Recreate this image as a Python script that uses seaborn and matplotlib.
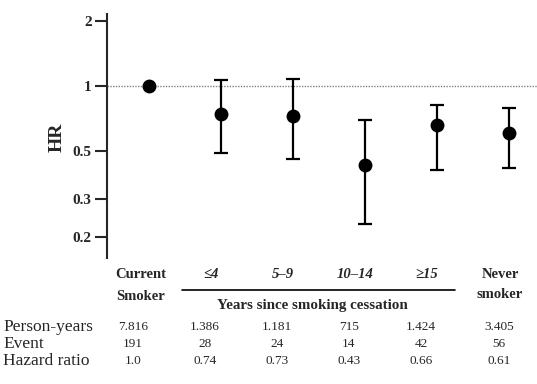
import numpy as np
import pandas as pd
import seaborn as sns
import matplotlib.pyplot as plt
from matplotlib.lines import Line2D

sns.set_style("ticks")
plt.rcParams['font.family'] = ['Liberation Serif', 'DejaVu Serif']

# Groups and estimates
groups = ["Current Smoker", "≤4", "5–9", "10–14", "≥15", "Never smoker"]
hazard_ratio = [1.0, 0.74, 0.73, 0.43, 0.66, 0.61]
ci_low = [1.0, 0.49, 0.46, 0.23, 0.41, 0.42]
ci_high = [1.0, 1.07, 1.08, 0.70, 0.82, 0.79]
has_ci = [False, True, True, True, True, True]

# Table below the plot
person_years = ["7.816", "1.386", "1.181", "715", "1.424", "3.405"]
events = ["191", "28", "24", "14", "42", "56"]
hr_text = ["1.0", "0.74", "0.73", "0.43", "0.66", "0.61"]

y_ticks = [0.2, 0.3, 0.5, 1, 2]
y_tick_labels = ["0.2", "0.3", "0.5", "1", "2"]

W, H = 537, 384
fig = plt.figure(figsize=(W / 100, H / 100), dpi=100)
ax = fig.add_axes([107 / W, 1 - 258 / H, 430 / W, (258 - 14) / H])

df = pd.DataFrame({"group": groups, "hr": hazard_ratio,
                   "lo": ci_low, "hi": ci_high, "ci": has_ci})
df["pos"] = np.arange(len(df))

# Confidence intervals
sub = df[df["ci"]]
ax.errorbar(sub["pos"], sub["hr"],
            yerr=[sub["hr"] - sub["lo"], sub["hi"] - sub["hr"]],
            fmt="none", ecolor="black", elinewidth=1.6, capsize=5,
            capthick=1.6, zorder=2)

# Point estimates
sns.scatterplot(data=df, x="pos", y="hr", ax=ax, color="black", s=100,
                edgecolor="black", linewidth=0, zorder=3, legend=False)

ax.axhline(1, color="0.5", ls=(0, (1, 1)), lw=1.0, zorder=1)

ax.set_yscale("log")
ax.set_ylim(0.16, 2.16)
ax.set_xlim(-0.583, 5.39)
ax.set_yticks(y_ticks)
ax.set_yticklabels(y_tick_labels, fontweight="bold", fontsize=11)
ax.yaxis.set_minor_locator(plt.NullLocator())
ax.tick_params(axis="y", length=9, width=1.5, direction="out", pad=2)
ax.set_xticks([])
ax.set_xlabel("")
ax.set_ylabel("")
for s in ["top", "right", "bottom"]:
    ax.spines[s].set_visible(False)
ax.spines["left"].set_linewidth(1.5)

fig.text(57 / W, 1 - 137 / H, "HR", rotation=90, ha="center", va="center",
         fontweight="bold", fontsize=14)

# Column positions in figure pixels, derived from the category positions
fig.canvas.draw()
px = [ax.transData.transform((i, 1))[0] for i in range(len(groups))]


def fy(y):
    return 1 - y / H


# Group headers
fig.text((px[0] - 8) / W, fy(275), "Current", ha="center", va="center",
         fontweight="bold", fontsize=10.5)
fig.text((px[0] - 8) / W, fy(296), "Smoker", ha="center", va="center",
         fontweight="bold", fontsize=10.5)
for i in range(1, 5):
    fig.text((px[i] - 10) / W, fy(274), groups[i], ha="center", va="center",
             fontweight="bold", fontstyle="italic", fontsize=10.5)
fig.text((px[5] - 9) / W, fy(275), "Never", ha="center", va="center",
         fontweight="bold", fontsize=10.5)
fig.text((px[5] - 9) / W, fy(294), "smoker", ha="center", va="center",
         fontweight="bold", fontsize=10.5)

fig.add_artist(Line2D([182 / W, 455 / W], [fy(290), fy(290)],
                      color="black", lw=1.2))
fig.text(312 / W, fy(305), "Years since smoking cessation", ha="center",
         va="center", fontweight="bold", fontsize=10.8)

# Table rows
rows = [("Person-years", person_years, 327),
        ("Event", events, 344),
        ("Hazard ratio", hr_text, 361)]
for label, vals, y in rows:
    fig.text(3 / W, fy(y), label, ha="left", va="center", fontsize=12.5)
    for i, v in enumerate(vals):
        off = 10 if i == 5 else 16
        fig.text((px[i] - off) / W, fy(y), v, ha="center", va="center",
                 fontsize=9.5)

fig.savefig("out.png", dpi=100)
